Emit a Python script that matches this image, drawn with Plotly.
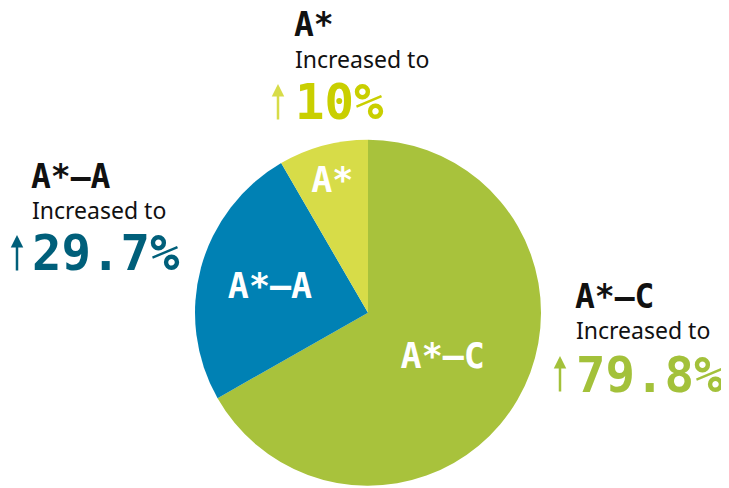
import plotly.graph_objects as go

labels = ["A*", "A*–A", "A*–C"]
values = [10, 29.7, 79.8]
slice_colors = ["#d7dc48", "#0081b4", "#a8c23c"]
value_colors = ["#c9cf00", "#005f7a", "#a3c13a"]
arrow_colors = ["#d7dc48", "#005f7a", "#a3c13a"]
caption = "Increased to"

# page has an 8px body margin; map screenshot pixels to figure coords
OFF = 8
W, H = 721, 480
def px(x):
    return (x - OFF) / W
def py(y):
    return 1 - (y - OFF) / H

mono = "DejaVu Sans Mono"
fig = go.Figure()
fig.add_trace(go.Pie(
    labels=labels[::-1], values=values[::-1], sort=False, direction="clockwise",
    rotation=0, marker=dict(colors=slice_colors[::-1], line=dict(width=0)),
    textinfo="label", textposition="inside", insidetextorientation="horizontal",
    textfont=dict(family=mono, size=35, color="white", weight="bold"),
    hoverinfo="label+value", showlegend=False,
    domain=dict(x=[px(195), px(541)], y=[py(486), py(139.5)]),
))

# label blocks: (left x, heading y, caption y, value y, arrow x)
blocks = [
    (295, 25, 59, 103, 278),
    (32, 176, 210, 254, 17),
    (576, 296, 330, 375, 560),
]
anns = []
for i, (lx, hy, cy, vy, ax) in enumerate(blocks):
    anns.append(dict(x=px(lx - 3), y=py(hy), xref="paper", yref="paper", xanchor="left", yanchor="middle",
                     text=f"<b>{labels[i]}</b>", showarrow=False,
                     font=dict(family=mono, size=33, color="#111111")))
    anns.append(dict(x=px(lx - 2), y=py(cy), xref="paper", yref="paper", xanchor="left", yanchor="middle",
                     text=caption, showarrow=False,
                     font=dict(family="Noto Sans", size=23, color="#111111")))
    anns.append(dict(x=px(lx - 2), y=py(vy), xref="paper", yref="paper", xanchor="left", yanchor="middle",
                     text=f"<b>{values[i]:g}%</b>", showarrow=False,
                     font=dict(family=mono, size=49, color=value_colors[i])))
    anns.append(dict(x=px(ax), y=py(vy - 19), xref="paper", yref="paper", ax=0, ay=37,
                     text="", showarrow=True, arrowhead=2, arrowsize=1, arrowwidth=2.5,
                     arrowcolor=arrow_colors[i]))

fig.update_layout(width=W, height=H, margin=dict(l=0, r=0, t=0, b=0),
                  paper_bgcolor="white", plot_bgcolor="white", annotations=anns)
fig.write_html("out.html")
